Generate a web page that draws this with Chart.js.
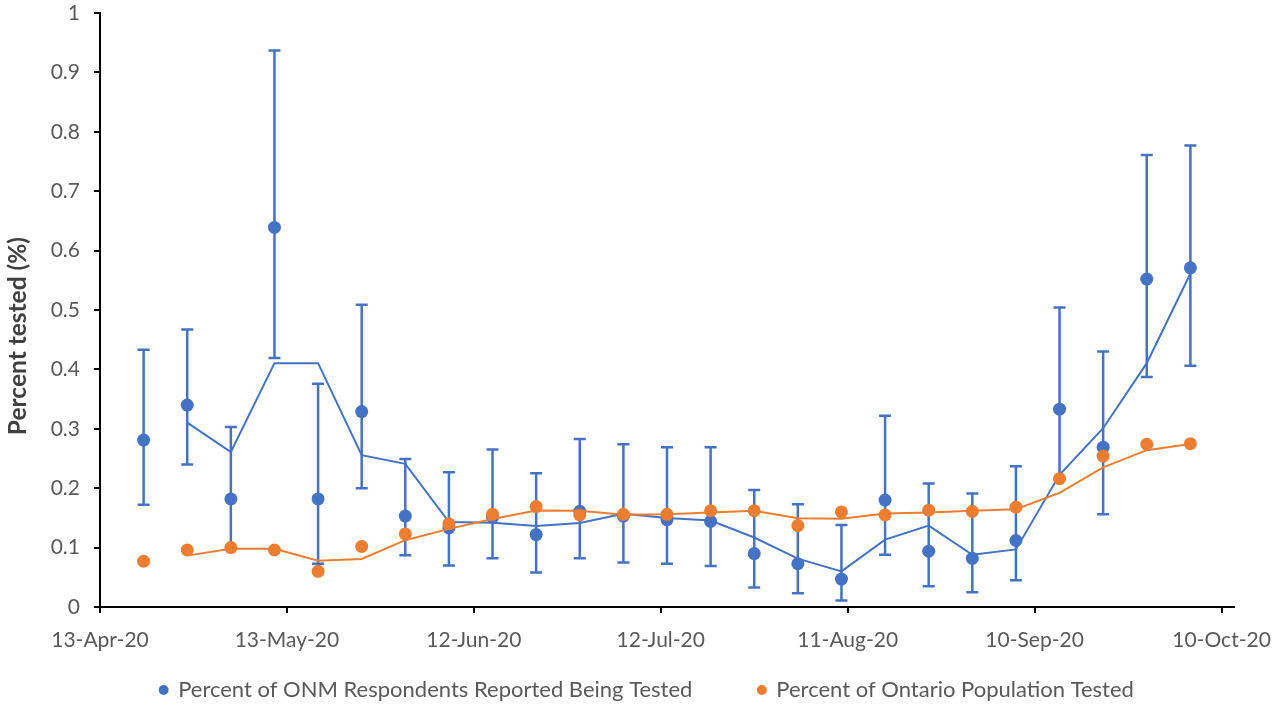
<!DOCTYPE html>
<html><head><meta charset="utf-8">
<script src="https://cdn.jsdelivr.net/npm/chart.js@4.4.1/dist/chart.umd.min.js"></script>
<style>html,body{margin:0;padding:0;background:#fff;} #wrap{width:1280px;height:705px;position:relative;}</style>
</head><body><div id="wrap"><canvas id="c"></canvas></div>
<script>
// ---- data ----
const startDate = '2020-04-13';
const endDate = '2020-10-12';
const dates = ['2020-04-20','2020-04-27','2020-05-04','2020-05-11','2020-05-18','2020-05-25','2020-06-01','2020-06-08','2020-06-15','2020-06-22','2020-06-29','2020-07-06','2020-07-13','2020-07-20','2020-07-27','2020-08-03','2020-08-10','2020-08-17','2020-08-24','2020-08-31','2020-09-07','2020-09-14','2020-09-21','2020-09-28','2020-10-05'];
const onmValues = [0.281,0.340,0.182,0.639,0.182,0.329,0.153,0.133,0.151,0.122,0.161,0.153,0.147,0.144,0.090,0.073,0.047,0.180,0.094,0.082,0.112,0.333,0.269,0.552,0.571];
const onmUpper  = [0.433,0.467,0.303,0.937,0.376,0.509,0.249,0.227,0.265,0.225,0.283,0.274,0.269,0.269,0.197,0.173,0.138,0.322,0.208,0.191,0.237,0.504,0.430,0.761,0.777];
const onmLower  = [0.172,0.240,0.100,0.419,0.073,0.200,0.087,0.070,0.082,0.058,0.082,0.075,0.073,0.069,0.033,0.023,0.011,0.088,0.035,0.025,0.045,0.216,0.156,0.387,0.406];
const ontarioValues = [0.077,0.096,0.100,0.096,0.060,0.102,0.123,0.140,0.156,0.169,0.155,0.156,0.156,0.162,0.162,0.137,0.160,0.155,0.163,0.161,0.168,0.216,0.254,0.274,0.275];
const xTickLabels = ['13-Apr-20','13-May-20','12-Jun-20','12-Jul-20','11-Aug-20','10-Sep-20','10-Oct-20'];
const xTickStepDays = 30;
const seriesNames = ['Percent of ONM Respondents Reported Being Tested','Percent of Ontario Population Tested'];
const yTitle = 'Percent tested (%)';
const trendPeriod = 2;

// ---- helpers ----
const DAY = 86400000;
const dayOf = d => (Date.parse(d) - Date.parse(startDate)) / DAY;
const xs = dates.map(dayOf);
function movingAverage(vals, period){
  const out = [];
  for (let i = period - 1; i < vals.length; i++){
    let s = 0; for (let k = 0; k < period; k++) s += vals[i-k];
    out.push({x: xs[i], y: s/period});
  }
  return out;
}
const pts = vals => vals.map((v,i) => ({x: xs[i], y: v}));

const BLUE = '#4472C4', ORANGE = '#ED7D31';
const FONT = 'Lato';

const errorBars = {
  id: 'errorBars',
  beforeDatasetDraw(chart, args){
    if (args.index !== 0) return;
    const {ctx, scales:{x, y}} = chart;
    ctx.save();
    ctx.strokeStyle = BLUE; ctx.lineWidth = 2.5;
    const cap = 6;
    xs.forEach((xv,i) => {
      const px = x.getPixelForValue(xv);
      const top = y.getPixelForValue(onmUpper[i]);
      const bot = y.getPixelForValue(onmLower[i]);
      ctx.beginPath();
      ctx.moveTo(px, top); ctx.lineTo(px, bot);
      ctx.moveTo(px-cap, top); ctx.lineTo(px+cap, top);
      ctx.moveTo(px-cap, bot); ctx.lineTo(px+cap, bot);
      ctx.stroke();
    });
    ctx.restore();
  }
};

// nudge the legend row to where the reference has it
const legendShift = {
  id: 'legendShift',
  afterLayout(chart){
    const l = chart.legend;
    if (l){ l.left += 30; l.right += 30; l.top += 6; l.bottom += 6; }
  }
};

new Chart(document.getElementById('c'), {
  type: 'scatter',
  data: {
    datasets: [
      {label: seriesNames[0], data: pts(onmValues), backgroundColor: BLUE, borderColor: BLUE, pointRadius: 6.5, pointBorderWidth: 0, order: 4},
      {label: 'trend1', data: movingAverage(onmValues, trendPeriod), showLine: true, borderColor: BLUE, borderWidth: 2, pointRadius: 0, fill: false, order: 3},
      {label: seriesNames[1], data: pts(ontarioValues), backgroundColor: ORANGE, borderColor: ORANGE, pointRadius: 6.5, pointBorderWidth: 0, order: 2},
      {label: 'trend2', data: movingAverage(ontarioValues, trendPeriod), showLine: true, borderColor: ORANGE, borderWidth: 2, pointRadius: 0, fill: false, order: 1}
    ]
  },
  options: {
    responsive: true, maintainAspectRatio: false, animation: false,
    layout: {padding: {left: 0, right: 46, top: 13, bottom: 0}},
    plugins: {
      tooltip: {enabled: false},
      legend: {
        position: 'bottom',
        labels: {
          sort: (a,b) => a.datasetIndex - b.datasetIndex,
          filter: item => item.datasetIndex === 0 || item.datasetIndex === 2,
          generateLabels: chart => {
            const items = Chart.defaults.plugins.legend.labels.generateLabels(chart);
            items.forEach(it => { if (it.datasetIndex === 0) it.text = it.text + '\u2003\u2003\u2003\u2002\u2009\u2009'; });
            return items;
          },
          usePointStyle: true, pointStyle: 'circle', boxWidth: 7, boxHeight: 7,
          padding: 0, color: '#595959', font: {family: FONT, size: 22}
        }
      }
    },
    scales: {
      x: {
        type: 'linear', min: 0, max: dayOf(endDate),
        afterFit: s => { s.height = 66; s.paddingLeft = 0; s.paddingRight = 0; },
        ticks: {stepSize: xTickStepDays, includeBounds: false, color: '#595959', font: {family: FONT, size: 21}, padding: 15, maxRotation: 0,
          callback: v => xTickLabels[v / xTickStepDays] ?? ''},
        grid: {drawOnChartArea: false, drawTicks: true, tickLength: 6, color: '#000', lineWidth: 2},
        border: {display: true, color: '#000', width: 2}
      },
      y: {
        min: 0, max: 1,
        afterFit: s => { s.width = 100; s.paddingTop = 0; s.paddingBottom = 0; },
        ticks: {stepSize: 0.1, color: '#595959', font: {family: FONT, size: 21}, padding: 14,
          callback: v => String(Math.round(v*10)/10)},
        grid: {drawOnChartArea: false, drawTicks: true, tickLength: 6, color: '#000', lineWidth: 2},
        border: {display: true, color: '#000', width: 2},
        title: {display: true, text: yTitle + '\u2003\u2003\u2002\u2009', color: '#404040', font: {family: FONT, size: 24.5, weight: 'bold'}, padding: {top: 3, bottom: 0}}
      }
    }
  },
  plugins: [errorBars, legendShift]
});
</script>
</body></html>
